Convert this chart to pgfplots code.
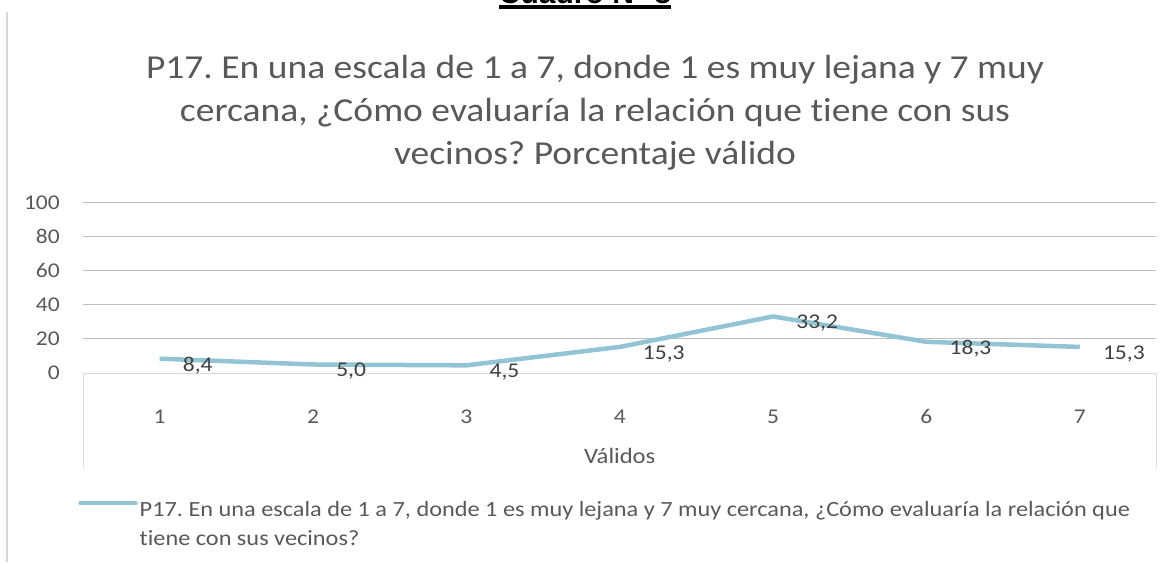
\documentclass[border=0pt]{standalone}
\usepackage{fontspec}
\setmainfont{Carlito}[FakeStretch=1.12, Ligatures=CommonOff]
\newfontfamily\arialfont{Liberation Sans}
\usepackage{pgfplots}
\pgfplotsset{compat=1.18}
\definecolor{txt}{RGB}{89,89,89}
\definecolor{lbl}{RGB}{64,64,64}
\definecolor{grid}{RGB}{217,217,217}
\definecolor{serie}{RGB}{147,196,214}
\frenchspacing
\begin{document}
\begin{tikzpicture}
\begin{scope}
\clip (0,0) rectangle (1167pt,562pt);
\node[anchor=base, font=\arialfont\bfseries\fontsize{30}{34}\selectfont, inner sep=0] at (585pt,558pt) {Cuadro N° 8};
\fill (499pt,553pt) rectangle (671pt,557pt);
\end{scope}
\draw[grid, line width=1.5pt] (7pt,0pt) -- (7pt,550pt);
\node[align=center, text=txt, font=\fontsize{33.5}{43}\selectfont] at (595pt,449pt)
  {P17. En una escala de 1 a 7, donde 1 es muy lejana y 7 muy\\cercana, ¿Cómo evaluaría la relación que tiene con sus\\vecinos? Porcentaje válido};
\begin{axis}[
  at={(83pt,189pt)}, anchor=south west,
  scale only axis, width=1073.5pt, height=170.3pt,
  xmin=0.5, xmax=7.5, ymin=0, ymax=100,
  xtick={1,2,3,4,5,6,7}, ytick={0,20,40,60,80,100},
  axis x line*=bottom, axis y line*=left,
  y axis line style={draw=none},
  x axis line style={grid, line width=1pt, -},
  major tick length=0pt,
  xtick style={draw=none}, ytick style={draw=none},
  xmajorgrids=false, ymajorgrids=true, grid style={grid, line width=1pt},
  /pgf/number format/assume math mode=true,
  tick label style={text=txt, font=\fontsize{21}{25}\selectfont, inner sep=0pt},
  yticklabel style={anchor=east, xshift=-23pt},
  xticklabel style={anchor=base, yshift=-50pt},
  xlabel={Válidos},
  xlabel style={at={(axis description cs:0.5,0)}, anchor=center, yshift=-83pt, text=txt, font=\fontsize{22}{26}\selectfont, inner sep=0pt},
  clip=false,
  legend style={at={(axis description cs:0,0)}, anchor=north west, xshift=-8pt, yshift=-124pt, draw=none, fill=none, font=\fontsize{21.7}{29}\selectfont, text=txt, cells={anchor=north west}},
  legend image code/.code={\draw[#1, line width=4.5pt, line cap=round] (0pt,-4pt) -- (55pt,-4pt);},
  nodes near coords, point meta=explicit symbolic,
  every node near coord/.append style={anchor=west, xshift=21pt, yshift=-7pt, text=lbl, font=\fontsize{21}{25}\selectfont, inner sep=0pt},
]
\addplot[serie, line width=4.5pt, line join=round, mark=none] table[meta=l] {
x y l
1 8.4 {8,4}
2 5.0 {5,0}
3 4.5 {4,5}
4 15.3 {15,3}
5 33.2 {33,2}
6 18.3 {18,3}
7 15.3 {15,3}
};
\addlegendentry{\parbox[t]{1010pt}{\raggedright P17. En una escala de 1 a 7, donde 1 es muy lejana y 7 muy cercana, ¿Cómo evaluaría la relación que\\tiene con sus vecinos?}}
\end{axis}
\draw[grid, line width=1pt] (83pt,189pt) -- (83pt,95.3pt);
\draw[grid, line width=1pt] (1156.5pt,189pt) -- (1156.5pt,95.3pt);
\end{tikzpicture}
\end{document}
